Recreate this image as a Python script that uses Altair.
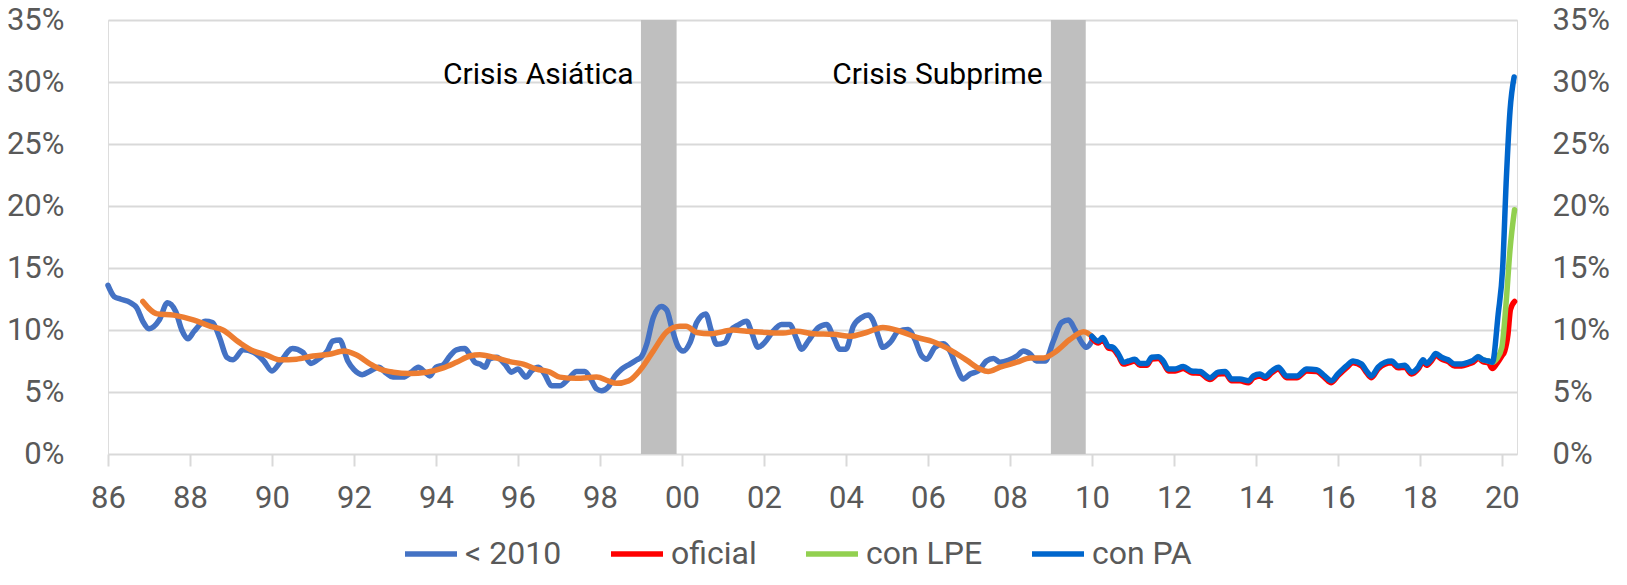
import altair as alt
import pandas as pd

# ---------------- data ----------------
pre_years = [1986.0, 1986.15, 1986.3, 1986.55, 1986.7, 1986.85, 1987.0, 1987.25, 1987.45, 1987.65,
             1987.8, 1987.95, 1988.1, 1988.37, 1988.55, 1988.72, 1988.9, 1989.05, 1989.3, 1989.55,
             1989.8, 1990.0, 1990.2, 1990.5, 1990.75, 1990.95, 1991.15, 1991.35, 1991.48, 1991.65,
             1991.85, 1992.0, 1992.2, 1992.4, 1992.6, 1992.8, 1992.95, 1993.2, 1993.4, 1993.57,
             1993.73, 1993.85, 1994.0, 1994.18, 1994.34, 1994.5, 1994.7, 1994.83, 1994.95, 1995.07,
             1995.2, 1995.3, 1995.48, 1995.68, 1995.84, 1996.0, 1996.2, 1996.33, 1996.5, 1996.65,
             1996.82, 1997.02, 1997.23, 1997.43, 1997.63, 1997.8, 1997.92, 1998.04, 1998.2, 1998.37,
             1998.53, 1998.73, 1998.9, 1999.0, 1999.14, 1999.3, 1999.5, 1999.63, 1999.75, 1999.9,
             2000.03, 2000.2, 2000.36, 2000.58, 2000.72, 2000.85, 2001.05, 2001.2, 2001.37, 2001.58,
             2001.7, 2001.86, 2002.02, 2002.2, 2002.43, 2002.63, 2002.8, 2002.92, 2003.08, 2003.33,
             2003.53, 2003.7, 2003.85, 2004.0, 2004.18, 2004.38, 2004.55, 2004.67, 2004.8, 2004.9,
             2005.08, 2005.28, 2005.52, 2005.68, 2005.85, 2005.97, 2006.17, 2006.38, 2006.54, 2006.7,
             2006.86, 2007.03, 2007.23, 2007.43, 2007.6, 2007.76, 2007.96, 2008.17, 2008.33, 2008.5,
             2008.65, 2008.86, 2009.06, 2009.26, 2009.43, 2009.59, 2009.75, 2009.87, 2010.0]
pre_vals = [13.6, 12.7, 12.5, 12.2, 11.8, 10.7, 10.1, 10.8, 12.2, 11.5,
            10.0, 9.3, 9.9, 10.7, 10.6, 9.4, 7.8, 7.6, 8.4, 8.2,
            7.5, 6.7, 7.4, 8.5, 8.2, 7.3, 7.7, 8.3, 9.1, 9.2,
            7.5, 6.8, 6.4, 6.7, 7.0, 6.5, 6.2, 6.2, 6.6, 7.0,
            6.6, 6.3, 7.0, 7.2, 7.9, 8.4, 8.5, 8.0, 7.4, 7.25,
            7.0, 7.65, 7.8, 7.25, 6.6, 6.85, 6.2, 6.7, 7.0, 6.45,
            5.5, 5.5, 6.05, 6.65, 6.65, 5.9, 5.25, 5.1, 5.4, 6.3,
            6.85, 7.25, 7.6, 7.8, 8.85, 11.0, 11.9, 11.6, 10.2, 8.7,
            8.3, 9.0, 10.6, 11.3, 9.9, 8.85, 9.0, 10.0, 10.4, 10.7,
            9.8, 8.6, 9.0, 9.8, 10.45, 10.45, 9.25, 8.45, 9.1, 10.2,
            10.45, 9.4, 8.45, 8.45, 10.3, 11.0, 11.2, 10.7, 9.4, 8.6,
            9.0, 9.9, 10.05, 9.25, 7.9, 7.65, 8.6, 8.9, 8.3, 7.0,
            6.05, 6.45, 6.7, 7.5, 7.7, 7.4, 7.55, 7.9, 8.3, 8.05,
            7.5, 7.5, 9.1, 10.6, 10.8, 10.0, 9.0, 8.6, 9.1]

trend_years = [1986.85, 1987.2, 1987.6, 1988.1, 1988.5, 1988.8, 1989.2, 1989.55, 1989.85, 1990.2,
               1990.6, 1991.0, 1991.4, 1991.75, 1992.05, 1992.4, 1992.63, 1992.96, 1993.36, 1993.77,
               1994.18, 1994.5, 1994.83, 1995.07, 1995.4, 1995.8, 1996.13, 1996.45, 1996.78, 1997.02,
               1997.43, 1997.92, 1998.2, 1998.4, 1998.7, 1999.0, 1999.3, 1999.63, 1999.95, 2000.1,
               2000.36, 2000.7, 2001.25, 2001.58, 2002.07, 2002.47, 2002.8, 2003.2, 2003.7, 2004.1,
               2004.5, 2004.9, 2005.32, 2005.73, 2006.13, 2006.54, 2006.95, 2007.27, 2007.47, 2007.76,
               2008.17, 2008.5, 2008.82, 2009.14, 2009.47, 2009.8, 2010.03]
trend_vals = [12.3, 11.3, 11.2, 10.8, 10.3, 10.0, 9.0, 8.3, 8.0, 7.6,
              7.65, 7.9, 8.05, 8.3, 8.0, 7.25, 6.85, 6.6, 6.5, 6.6,
              6.95, 7.4, 7.9, 8.0, 7.8, 7.45, 7.25, 6.85, 6.6, 6.2,
              6.1, 6.2, 5.9, 5.7, 5.9, 6.85, 8.3, 9.85, 10.3, 10.3,
              9.8, 9.7, 10.0, 9.9, 9.8, 9.75, 9.9, 9.7, 9.65, 9.5,
              9.8, 10.2, 9.9, 9.4, 9.05, 8.4, 7.55, 6.85, 6.65, 7.0,
              7.4, 7.75, 7.75, 8.3, 9.25, 9.85, 9.4]

common_years = [2010.0, 2010.16, 2010.26, 2010.4, 2010.52, 2010.65, 2010.77, 2010.89,
                2011.05, 2011.17, 2011.34, 2011.46, 2011.62, 2011.74, 2011.87,
                2012.03, 2012.23, 2012.43, 2012.64, 2012.88,
                2013.08, 2013.25, 2013.41, 2013.61, 2013.82, 2013.94,
                2014.1, 2014.22, 2014.39, 2014.55, 2014.75,
                2015.0, 2015.24, 2015.48, 2015.68, 2015.84,
                2016.0, 2016.21, 2016.37, 2016.58, 2016.7, 2016.82, 2016.98,
                2017.15, 2017.31, 2017.47, 2017.63, 2017.8, 2017.96,
                2018.08, 2018.16, 2018.28, 2018.39, 2018.53, 2018.69, 2018.85,
                2019.02, 2019.18, 2019.3, 2019.42, 2019.54, 2019.67]
pa_common_vals = [9.5, 9.1, 9.4, 8.7, 8.6, 8.05, 7.4, 7.5,
                  7.65, 7.3, 7.3, 7.8, 7.85, 7.5, 6.85,
                  6.85, 7.05, 6.7, 6.65, 6.15,
                  6.6, 6.65, 6.05, 6.05, 5.9, 6.3,
                  6.45, 6.25, 6.7, 7.0, 6.3,
                  6.3, 6.85, 6.8, 6.3, 5.9,
                  6.45, 7.1, 7.5, 7.25, 6.7, 6.3, 7.0,
                  7.4, 7.5, 7.1, 7.15, 6.6, 7.0,
                  7.6, 7.3, 7.65, 8.1, 7.8, 7.6, 7.25,
                  7.25, 7.4, 7.55, 7.85, 7.6, 7.5]
oficial_common_vals = [9.35, 8.95, 9.25, 8.55, 8.45, 7.9, 7.25, 7.35,
                       7.5, 7.15, 7.15, 7.65, 7.7, 7.35, 6.7,
                       6.7, 6.9, 6.55, 6.5, 6.0,
                       6.45, 6.5, 5.9, 5.9, 5.75, 6.15,
                       6.3, 6.1, 6.55, 6.85, 6.15,
                       6.15, 6.7, 6.65, 6.15, 5.75,
                       6.3, 6.95, 7.35, 7.1, 6.55, 6.15, 6.85,
                       7.25, 7.35, 6.95, 7.0, 6.45, 6.85,
                       7.45, 7.15, 7.5, 7.95, 7.65, 7.45, 7.1,
                       7.1, 7.25, 7.4, 7.7, 7.45, 7.35]

pa_tail_years = [2019.77, 2019.91, 2020.02, 2020.11, 2020.2, 2020.3]
pa_tail_vals = [7.4, 11.25, 15.0, 22.2, 27.7, 30.4]
oficial_tail_years = [2019.77, 2019.88, 2020.0, 2020.07, 2020.15, 2020.21, 2020.31]
oficial_tail_vals = [6.9, 7.3, 7.9, 8.3, 9.65, 11.65, 12.3]
lpe_years = [2019.42, 2019.54, 2019.67, 2019.77, 2019.88, 2020.0, 2020.1, 2020.2, 2020.31]
lpe_vals = [7.85, 7.6, 7.5, 7.4, 7.7, 8.6, 12.0, 16.5, 19.7]

series_names = ["< 2010", "oficial", "con LPE", "con PA"]
series_colors = ["#4472C4", "#FF0000", "#92D050", "#0066CC"]
trend_color = "#ED7D31"

crisis_start = [1999.0, 2009.0]
crisis_end = [1999.87, 2009.85]
crisis_bottom = [0, 0]
crisis_top = [35, 35]
crisis_labels = ["Crisis Asiática", "Crisis Subprime"]
label_x = [1998.82, 2008.8]
label_y = [30.6, 30.6]

x_ticks = list(range(1986, 2021, 2))
y_ticks = [0, 5, 10, 15, 20, 25, 30, 35]

# ---------------- tables ----------------
df_pre = pd.DataFrame({"year": pre_years, "rate": pre_vals, "serie": series_names[0]})
df_trend = pd.DataFrame({"year": trend_years, "rate": trend_vals})
df_of = pd.DataFrame({"year": common_years + oficial_tail_years,
                      "rate": oficial_common_vals + oficial_tail_vals, "serie": series_names[1]})
df_lpe = pd.DataFrame({"year": lpe_years, "rate": lpe_vals, "serie": series_names[2]})
df_pa = pd.DataFrame({"year": common_years + pa_tail_years,
                      "rate": pa_common_vals + pa_tail_vals, "serie": series_names[3]})
df_crisis = pd.DataFrame({"start": crisis_start, "end": crisis_end,
                          "lo": crisis_bottom, "hi": crisis_top,
                          "label": crisis_labels, "lx": label_x, "ly": label_y})

FONT = "Roboto"
GREY = "#595959"
GRID = "#D9D9D9"
FS = 31

xscale = alt.Scale(domain=[1986, 2020.37], nice=False, zero=False)
yscale = alt.Scale(domain=[0, 35], nice=False)

x_axis = alt.Axis(values=x_ticks, labelExpr="substring(toString(datum.value), 2, 4)",
                  title=None, grid=False, domain=False, ticks=True, tickColor=GRID,
                  tickWidth=2, tickSize=12, labelFontSize=FS, labelColor=GREY, labelFont=FONT,
                  labelPadding=17, labelFlush=False, labelOverlap=False, labelBound=False)
y_left = alt.Axis(values=y_ticks, labelExpr="datum.value + '%'", title=None, domain=False,
                  ticks=False, grid=True, gridColor=GRID, gridWidth=2, labelFontSize=FS,
                  labelColor=GREY, labelFont=FONT, labelPadding=44, orient="left")
y_right = alt.Axis(values=y_ticks, labelExpr="datum.value + '%'", title=None, domain=False,
                   ticks=False, grid=False, labelFontSize=FS, labelColor=GREY, labelFont=FONT,
                   labelPadding=35, orient="right")

legend = alt.Legend(title=None, orient="none", legendX=294, legendY=505, direction="horizontal",
                    symbolType="stroke", symbolSize=2704, symbolStrokeWidth=5.5,
                    labelFontSize=32, labelColor=GREY, labelFont=FONT, labelOffset=5,
                    columnPadding=38, labelLimit=300)
color = alt.Color("serie:N", scale=alt.Scale(domain=series_names, range=series_colors),
                  legend=legend)

bars = alt.Chart(df_crisis).mark_rect(color="#BFBFBF").encode(
    x=alt.X("start:Q", scale=xscale, axis=x_axis),
    x2="end:Q",
    y=alt.Y("lo:Q", scale=yscale, axis=y_left),
    y2="hi:Q",
)
texts = alt.Chart(df_crisis).mark_text(align="right", baseline="middle", fontSize=30,
                                       font=FONT, color="#000000").encode(
    x=alt.X("lx:Q", scale=xscale, axis=x_axis),
    y=alt.Y("ly:Q", scale=yscale, axis=y_right),
    text="label:N",
)

LW = 5.5


def line_layer(df):
    return alt.Chart(df).mark_line(strokeWidth=LW, interpolate="monotone",
                                   strokeCap="round", strokeJoin="round").encode(
        x=alt.X("year:Q", scale=xscale, axis=x_axis),
        y=alt.Y("rate:Q", scale=yscale, axis=None),
        color=color,
        order="year:Q",
    )


pre_line = line_layer(df_pre)
trend_line = alt.Chart(df_trend).mark_line(strokeWidth=LW, interpolate="monotone",
                                           strokeCap="round", color=trend_color).encode(
    x=alt.X("year:Q", scale=xscale, axis=x_axis),
    y=alt.Y("rate:Q", scale=yscale, axis=None),
    order="year:Q",
)
of_line = line_layer(df_of)
lpe_line = line_layer(df_lpe)
pa_line = line_layer(df_pa)

chart = alt.layer(bars, texts, pre_line, trend_line, of_line, lpe_line, pa_line).resolve_scale(
    y="shared", x="shared", color="shared"
).resolve_axis(y="independent").properties(
    width=1409, height=434,
    padding={"left": 100, "top": 12, "right": 102, "bottom": 118},
    autosize=alt.AutoSizeParams(type="none"),
).configure_view(stroke=None).configure(background="white")

chart.save("out.html", embed_options={"renderer": "svg", "actions": False})
